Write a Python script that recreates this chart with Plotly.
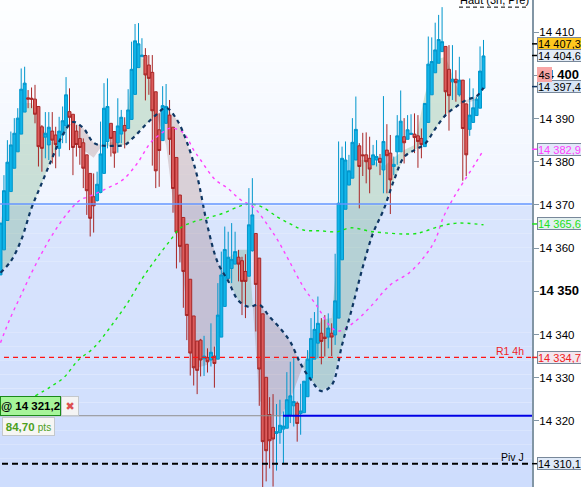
import plotly.graph_objects as go

candle_open = [14353.8,14359.6,14366.4,14373.1,14378.5,14382.3,14386.4,14391.5,14394.8,14394.7,
14394.5,14392.8,14388.1,14385.7,14383.9,14387.1,14386.2,14383.1,14386.2,14388.3,
14391.6,14391.0,14387.1,14385.4,14384.4,14381.6,14377.3,14371.9,14371.0,14372.9,
14377.3,14384.7,14388.9,14387.0,14384.4,14386.4,14388.4,14387.7,14389.8,14395.6,
14401.8,14404.3,14404.6,14402.4,14400.7,14396.2,14387.4,14384.9,14388.9,14390.8,
14388.0,14381.0,14372.3,14367.1,14360.9,14352.8,14344.3,14338.5,14338.7,14334.4,
14334.7,14334.1,14335.0,14334.3,14339.4,14346.5,14353.0,14355.3,14356.3,14357.9,
14357.1,14354.6,14353.5,14359.4,14363.4,14357.7,14344.8,14330.1,14321.5,14318.5,
14317.1,14317.3,14318.1,14318.3,14321.4,14323.5,14324.1,14321.7,14321.9,14325.6,
14329.9,14334.3,14338.0,14340.3,14339.4,14339.4,14340.3,14339.9,14343.8,14357.3,
14369.0,14374.6,14376.2,14380.4,14383.7,14381.6,14381.6,14380.8,14379.3,14380.4,
14380.8,14378.1,14382.7,14382.0,14378.9,14382.3,14382.3,14385.8,14385.2,14386.3,
14386.4,14386.0,14385.4,14383.5,14389.1,14395.5,14400.6,14402.8,14405.5,14406.7,
14401.4,14398.5,14399.1,14395.5,14398.9,14393.4,14387.5,14389.1,14390.7,14392.4,
14397.0]
candle_high = [14365.8,14376.9,14385.0,14387.0,14390.1,14392.4,14401.6,14402.0,14396.6,14397.2,
14397.8,14392.8,14388.5,14391.5,14391.5,14391.5,14388.1,14390.4,14392.8,14399.6,
14397.0,14391.0,14388.5,14388.5,14385.4,14381.6,14377.3,14377.3,14377.7,14389.3,
14398.2,14399.3,14388.9,14387.0,14394.7,14392.0,14390.3,14396.8,14407.8,14411.9,
14412.1,14408.6,14406.3,14404.7,14404.7,14396.2,14391.2,14397.5,14398.0,14394.3,
14388.0,14381.0,14372.3,14367.1,14360.9,14352.8,14344.3,14338.5,14339.0,14339.7,
14336.8,14342.6,14337.2,14351.9,14359.2,14365.0,14363.8,14365.8,14363.8,14359.6,
14358.0,14358.6,14373.9,14376.2,14363.4,14357.7,14344.8,14330.1,14325.5,14326.2,
14323.9,14324.9,14322.2,14331.3,14333.7,14334.9,14324.5,14328.6,14329.2,14336.4,
14343.8,14345.2,14348.8,14343.8,14344.5,14344.9,14342.6,14358.7,14384.7,14383.5,
14384.7,14381.6,14390.1,14395.1,14384.3,14386.7,14386.8,14385.8,14383.9,14385.0,
14381.8,14395.2,14388.7,14386.2,14381.2,14390.8,14396.5,14390.1,14390.8,14391.0,
14391.2,14390.8,14387.7,14393.5,14409.0,14408.8,14412.2,14414.0,14415.8,14406.7,
14407.0,14407.0,14401.2,14404.3,14398.9,14393.5,14399.3,14397.0,14395.1,14406.7,
14408.2]
candle_low = [14353.8,14359.6,14366.4,14373.1,14378.5,14382.3,14386.4,14391.5,14392.4,14392.4,
14388.9,14378.9,14377.7,14380.8,14380.4,14379.6,14378.5,14381.2,14384.3,14384.3,
14382.7,14376.9,14381.2,14379.3,14373.9,14367.7,14362.7,14363.6,14370.8,14372.7,
14377.3,14383.1,14381.2,14378.6,14382.1,14384.3,14383.1,14387.7,14389.8,14395.6,
14401.8,14404.3,14394.2,14395.5,14379.1,14373.9,14374.2,14384.9,14388.8,14381.6,
14368.2,14355.3,14356.7,14346.2,14338.7,14330.5,14328.2,14326.2,14330.3,14330.4,
14331.2,14332.6,14327.7,14334.3,14339.4,14346.5,14353.0,14351.9,14356.3,14352.3,
14344.5,14343.8,14353.5,14359.2,14340.7,14323.5,14304.0,14306.0,14309.0,14304.8,
14308.5,14314.7,14310.2,14318.3,14319.5,14318.7,14315.2,14316.8,14321.9,14325.6,
14329.9,14334.3,14334.5,14333.1,14334.9,14336.8,14335.0,14337.6,14343.8,14357.3,
14369.0,14374.6,14376.2,14380.4,14369.2,14376.7,14375.0,14372.7,14379.3,14378.9,
14376.9,14372.7,14372.7,14367.9,14376.9,14379.3,14382.3,14379.6,14385.2,14386.3,
14382.0,14378.6,14380.8,14383.5,14389.1,14395.5,14400.6,14402.8,14405.5,14390.4,
14387.2,14394.3,14393.9,14395.1,14375.6,14376.7,14386.0,14389.1,14390.7,14392.4,
14397.0]
candle_close = [14365.8,14373.3,14379.9,14383.9,14386.6,14390.1,14396.8,14398.2,14394.5,14394.5,
14391.0,14383.5,14383.1,14386.6,14388.0,14385.0,14384.0,14387.1,14389.5,14395.5,
14390.3,14383.3,14384.0,14383.3,14378.5,14373.3,14366.9,14369.8,14374.8,14381.8,
14392.4,14392.8,14385.4,14382.0,14388.3,14390.3,14387.1,14392.0,14401.4,14408.0,
14407.3,14404.7,14400.1,14399.3,14391.8,14377.9,14382.6,14393.0,14392.8,14385.2,
14373.8,14363.7,14360.4,14354.6,14344.4,14335.7,14332.3,14331.7,14334.1,14335.0,
14333.7,14335.9,14333.3,14344.5,14353.8,14359.7,14357.9,14357.4,14359.2,14356.3,
14352.3,14352.3,14365.4,14367.7,14351.6,14332.0,14315.2,14313.1,14315.4,14315.8,
14317.5,14319.0,14318.8,14324.9,14325.8,14324.5,14319.4,14322.3,14329.2,14334.3,
14339.1,14341.2,14342.6,14338.4,14339.1,14341.5,14339.4,14347.8,14370.4,14380.8,
14380.4,14377.9,14384.5,14387.5,14378.9,14381.4,14380.0,14378.3,14381.6,14381.2,
14379.8,14384.7,14381.4,14375.8,14379.4,14386.0,14389.4,14384.4,14387.4,14386.6,
14385.6,14384.7,14384.0,14393.5,14402.6,14403.2,14405.9,14408.3,14407.8,14396.2,
14395.3,14399.1,14398.3,14398.9,14387.7,14381.6,14390.8,14392.5,14394.5,14401.0,
14404.5]

cloud_index = list(range(0, 139, 3)) + [140]
slow_ma = [14354.3,14357.0,14361.9,14369.3,14375.1,14380.9,14386.2,14389.2,14387.8,14384.4,
14383.7,14383.7,14383.9,14386.0,14388.5,14390.8,14392.5,14389.9,14384.6,14376.7,
14365.1,14356.6,14352.4,14347.8,14346.4,14346.9,14344.1,14341.5,14338.3,14333.2,
14329.5,14326.9,14328.3,14337.6,14346.4,14355.6,14363.5,14368.8,14375.6,14381.1,
14382.7,14384.1,14387.6,14390.8,14392.7,14394.3,14395.2,14397.1]
fast_ma = [14365.4,14379.3,14393.6,14393.6,14387.8,14384.4,14387.8,14389.0,14382.7,14380.9,
14384.4,14384.6,14387.4,14404.7,14403.6,14391.5,14383.9,14364.2,14346.9,14332.3,
14333.0,14338.7,14357.7,14359.6,14359.6,14324.9,14321.4,14320.9,14324.9,14331.3,
14337.6,14343.4,14343.8,14371.2,14380.4,14380.4,14380.4,14378.8,14380.9,14382.7,
14383.9,14395.5,14403.6,14404.3,14397.8,14393.6,14394.3,14400.8]

magenta_index = [0,3,6,9,12,14.5,19.4,23.2,25.5,31,35.4,39.7,43.5,47.2,49.3,53,56,58,62.3,65.8,69.6,
73.3,77.4,80.3,83.5,87.8,91.9,95.7,98,102.3,107.2,113,118.8,123.2,126,128.4,131,133.3,137.7,140]
magenta_ma = [14338.1,14344.1,14349.2,14354.3,14358.9,14362.4,14368.1,14371.2,14371.9,14373.9,14375.8,
14379.7,14384.4,14386.9,14387.8,14386.7,14382.7,14380.4,14375.8,14373.9,14371.2,14369.5,14365.4,
14361.9,14357.3,14351.0,14346.4,14341.8,14340.8,14342.7,14346.4,14351.5,14354.5,14358.4,14361.9,
14367.2,14371.2,14374.2,14379.7,14382.7]
green_index = [10.1,14.5,18.3,22.6,27,31.9,36.8,41.2,44.9,49.3,52.2,56,60,64.6,69.6,72.5,75.9,80.3,84,
87.8,92.8,97.7,101.4,108,119.7,122.6,127.5,132.5,140]
green_ma = [14325.8,14327.9,14330.0,14334.1,14336.9,14341.8,14347.3,14353.1,14357.3,14361.9,14364.7,
14366.1,14367.0,14368.1,14369.8,14370.2,14369.5,14367.2,14365.6,14364.2,14364.0,14363.8,14364.7,
14363.8,14363.3,14363.8,14365.1,14365.8,14365.4]

tick_values = [14320,14330,14340,14350,14360,14370,14380,14390,14400,14410]
tick_labels = ["14 320","14 330","14 340","<b><span style='font-size:13px'>14 350</span></b>","14 360","14 370","14 380","14 390",
               "<b><span style='font-size:13px'>14 400</span></b>","14 410"]
level_session = 14370.2
level_r1 = 14334.7
level_piv = 14310.1
level_order = 14321.2
level_high = 14415.8
tags = [("14 407,3",14407.3,"#ffc81e","#000000","#000000"),
        ("14 404,6",14404.6,"#e4ecf6","#000000","#000000"),
        ("14 397,4",14397.4,"#d8e6f6","#000000","#0f3764"),
        ("14 382,9",14382.9,"#e3e8fa","#ff40ff","#ff40ff"),
        ("14 365,6",14365.6,"#e3f0f0","#20e020","#20e020"),
        ("14 334,7",14334.7,"#f4e6ee","#f02020","#f02020"),
        ("14 310,1",14310.1,"#e0eaf8","#000000","#000000")]

PX_W = 532.0
FONT = "Liberation Sans"

def split_cloud():
    green, red = ([], []), ([], [])
    for k in range(len(cloud_index) - 1):
        i0, i1 = cloud_index[k], cloud_index[k + 1]
        s0, s1 = slow_ma[k], slow_ma[k + 1]
        f0, f1 = fast_ma[k], fast_ma[k + 1]
        d0, d1 = f0 - s0, f1 - s1
        parts = []
        if d0 * d1 < 0:
            t = d0 / (d0 - d1)
            im, vm = i0 + t * (i1 - i0), s0 + t * (s1 - s0)
            parts.append((d0, [i0, i0, im], [s0, f0, vm]))
            parts.append((d1, [im, i1, i1], [vm, f1, s1]))
        else:
            parts.append((d0 + d1, [i0, i0, i1, i1], [s0, f0, f1, s1]))
        for sign, xs, ys in parts:
            target = green if sign >= 0 else red
            target[0].extend(xs + [xs[0], None])
            target[1].extend(ys + [ys[0], None])
    return green, red

green_poly, red_poly = split_cloud()

fig = go.Figure()
fig.add_trace(go.Scatter(x=green_poly[0], y=green_poly[1], mode="none", fill="toself",
                         fillcolor="rgba(45,135,55,0.2)", hoverinfo="skip", xaxis="x", yaxis="y"))
fig.add_trace(go.Scatter(x=red_poly[0], y=red_poly[1], mode="none", fill="toself",
                         fillcolor="rgba(125,60,55,0.2)", hoverinfo="skip", xaxis="x", yaxis="y"))
fig.add_trace(go.Candlestick(
    x=list(range(len(candle_open))), open=candle_open, high=candle_high, low=candle_low, close=candle_close,
    increasing=dict(line=dict(color="#0096cc", width=1), fillcolor="#10b4e8"),
    decreasing=dict(line=dict(color="#a82626", width=1), fillcolor="#dc5c5c"),
    whiskerwidth=0, hoverinfo="skip", xaxis="x2", yaxis="y2"))
fig.add_trace(go.Scatter(x=magenta_index, y=magenta_ma, mode="lines", hoverinfo="skip", xaxis="x3", yaxis="y3",
                         line=dict(color="#ff40ff", width=1.4, dash="3px,4px", shape="spline")))
fig.add_trace(go.Scatter(x=green_index, y=green_ma, mode="lines", hoverinfo="skip", xaxis="x3", yaxis="y3",
                         line=dict(color="#14e614", width=1.4, dash="3px,4px", shape="spline")))
fig.add_trace(go.Scatter(x=cloud_index, y=slow_ma, mode="lines", hoverinfo="skip", xaxis="x3", yaxis="y3",
                         line=dict(color="#0f3764", width=2.2, dash="4px,4px", shape="spline")))

shapes = []
def lerp(a, b, t):
    return tuple(round(a[n] + (b[n] - a[n]) * t) for n in range(3))
def bands(top, bottom, c0, c1, n):
    for k in range(n):
        c = lerp(c0, c1, k / (n - 1))
        y1 = top + (bottom - top) * k / n
        y0 = top + (bottom - top) * (k + 1) / n
        shapes.append(dict(type="rect", xref="paper", yref="paper", x0=0, x1=1, y0=1 - y0 / 487, y1=1 - y1 / 487,
                           fillcolor=f"rgb{c}", line_width=0, layer="below"))
bands(0, 205.5, (253, 254, 255), (240, 245, 255), 20)
bands(205.5, 487, (218, 229, 253), (206, 221, 253), 20)

def hline(y, x0, x1, color, width, dash="solid"):
    shapes.append(dict(type="line", xref="paper", yref="y", x0=x0 / PX_W, x1=x1 / PX_W, y0=y, y1=y,
                       line=dict(color=color, width=width, dash=dash), layer="above"))
hline(level_session, 0, 532, "#6496ff", 1.5)
hline(level_r1, 4, 532, "#ff1414", 1.4, "5px,4px")
hline(level_piv, 2, 532, "#000000", 2, "6px,4px")
hline(level_order, 0, 283, "#8c8c8c", 1.2)
hline(level_order, 283, 532, "#0000e6", 2.2)
hline(level_high, 459, 528, "#000000", 1, "4px,3px")
for label, val, bg, fg, tick in tags:
    hline(val, 532, 537, tick, 1.5)

fig.update_layout(
    width=581, height=487, margin=dict(l=0, r=49, t=0, b=0, autoexpand=False),
    paper_bgcolor="#ffffff", plot_bgcolor="rgba(0,0,0,0)", showlegend=False, boxgap=0.08, boxgroupgap=0.08,
    shapes=shapes, font=dict(family=FONT, size=11, color="#000000"),
    xaxis=dict(range=[-0.145, 154.06], visible=False, fixedrange=True),
    xaxis2=dict(overlaying="x", matches="x", visible=False, rangeslider=dict(visible=False)),
    xaxis3=dict(overlaying="x", matches="x", visible=False),
    yaxis=dict(range=[14304.7, 14417.45], side="right", tickmode="array", tickvals=tick_values, ticktext=tick_labels,
               ticks="outside", ticklen=5, tickcolor="#8296a5", tickwidth=1, showline=True, linecolor="#8296a5",
               linewidth=2, showgrid=False, zeroline=False, ticklabelstandoff=-2,
               tickfont=dict(family=FONT, size=11.5, color="#000000")),
    yaxis2=dict(overlaying="y", matches="y", visible=False),
    yaxis3=dict(overlaying="y", matches="y", visible=False),
)

for label, val, bg, fg, tick in tags:
    fig.add_annotation(x=537 / PX_W, xref="paper", y=val, yref="y", xanchor="left", yanchor="middle", text=label,
                       showarrow=False, width=43, height=11, align="left", bgcolor=bg, bordercolor="#78889a",
                       borderwidth=1, borderpad=0, font=dict(family=FONT, size=11, color=fg))
fig.add_annotation(x=537 / PX_W, xref="paper", y=14400.3, yref="y", xanchor="left", yanchor="middle", text="4s",
                   showarrow=False, width=15, height=15, bgcolor="#f9a6a6", borderwidth=0, borderpad=0, align="center",
                   font=dict(family=FONT, size=11, color="#000000"))
fig.add_annotation(x=494 / PX_W, xref="paper", y=0.9995, yref="paper", xanchor="center", yanchor="middle",
                   text="Haut (3n, Pre)", showarrow=False, font=dict(family=FONT, size=11, color="#000000"))
fig.add_annotation(x=526 / PX_W, xref="paper", y=level_r1 + 1.5, yref="y", xanchor="right", yanchor="middle",
                   text="R1 4h", showarrow=False, font=dict(family=FONT, size=10.5, color="#f01e1e"))
fig.add_annotation(x=526 / PX_W, xref="paper", y=level_piv + 1.6, yref="y", xanchor="right", yanchor="middle",
                   text="Piv J", showarrow=False, font=dict(family=FONT, size=10.5, color="#000000"))
fig.add_annotation(x=0, xref="paper", y=level_order, yref="y", xanchor="left", yanchor="bottom", text="<b>@ 14 321,2</b>",
                   showarrow=False, width=59, height=18, bgcolor="#a6f59a", bordercolor="#1a8a1a", borderwidth=1,
                   borderpad=0, align="center", font=dict(family=FONT, size=11.5, color="#000000"))
fig.add_annotation(x=61 / PX_W, xref="paper", y=level_order, yref="y", xanchor="left", yanchor="bottom", text="✖",
                   showarrow=False, width=16, height=18, bgcolor="#f4f4f4", bordercolor="#c4c8cc", borderwidth=1,
                   borderpad=0, align="center", font=dict(family="DejaVu Sans", size=11, color="#dc5050"))
fig.add_annotation(x=2 / PX_W, xref="paper", y=level_order - 0.2, yref="y", xanchor="left", yanchor="top",
                   text="<b>84,70</b> <span style='font-size:10px'>pts</span>",
                   showarrow=False, width=51, height=17, bgcolor="#f6f6f4", bordercolor="#c4c8cc", borderwidth=1,
                   borderpad=0, align="center", font=dict(family=FONT, size=11.5, color="#4ca01e"))

fig.write_html("out.html", post_script="document.body.style.margin='0';document.documentElement.style.overflow='hidden';",
               config=dict(displayModeBar=False))
